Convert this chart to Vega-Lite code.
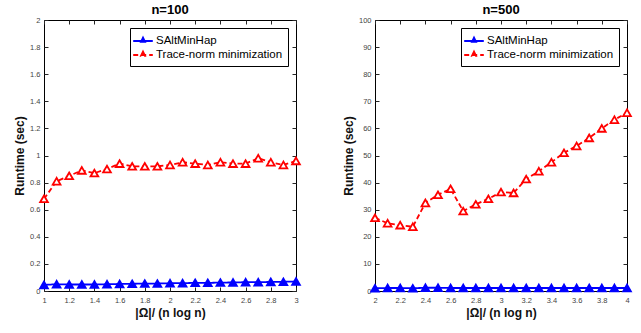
{
  "$schema": "https://vega.github.io/schema/vega-lite/v6.json",
  "autosize": {"type": "pad"},
  "padding": {"left": 13, "top": 3, "right": 15, "bottom": 10},
  "background": "white",
  "bounds": "flush",
  "spacing": 79,
  "config": {
    "font": "Liberation Sans",
    "view": {"stroke": "black", "strokeWidth": 1},
    "axis": {
      "domain": false,
      "grid": false,
      "tickSize": -4,
      "tickColor": "#262626",
      "labelFontSize": 7.5,
      "labelColor": "#444444",
      "labelFont": "Liberation Sans",
      "titleFont": "Liberation Sans",
      "titleFontSize": 12,
      "titleFontWeight": "bold",
      "titleColor": "#111111"
    },
    "legend": {
      "symbolType": "M-1.4,0H1.4M0,-0.45L0.27,0.1H-0.27Z",
      "symbolSize": 196,
      "symbolStrokeWidth": 2,
      "labelFontSize": 11.5,
      "labelFont": "Liberation Sans",
      "labelColor": "black",
      "labelOffset": 5,
      "strokeColor": "black",
      "fillColor": "white",
      "padding": 5,
      "rowPadding": 0,
      "orient": "top-right",
      "offset": 8
    },
    "title": {"fontSize": 13, "fontWeight": "bold", "font": "Liberation Sans", "offset": -1, "color": "black"}
  },
  "datasets": {
    "d100": [
      {"x": 1.0, "y": 0.045, "method": "SAltMinHap"},
      {"x": 1.1, "y": 0.05, "method": "SAltMinHap"},
      {"x": 1.2, "y": 0.048, "method": "SAltMinHap"},
      {"x": 1.3, "y": 0.048, "method": "SAltMinHap"},
      {"x": 1.4, "y": 0.048, "method": "SAltMinHap"},
      {"x": 1.5, "y": 0.05, "method": "SAltMinHap"},
      {"x": 1.6, "y": 0.052, "method": "SAltMinHap"},
      {"x": 1.7, "y": 0.053, "method": "SAltMinHap"},
      {"x": 1.8, "y": 0.055, "method": "SAltMinHap"},
      {"x": 1.9, "y": 0.055, "method": "SAltMinHap"},
      {"x": 2.0, "y": 0.057, "method": "SAltMinHap"},
      {"x": 2.1, "y": 0.058, "method": "SAltMinHap"},
      {"x": 2.2, "y": 0.06, "method": "SAltMinHap"},
      {"x": 2.3, "y": 0.06, "method": "SAltMinHap"},
      {"x": 2.4, "y": 0.062, "method": "SAltMinHap"},
      {"x": 2.5, "y": 0.063, "method": "SAltMinHap"},
      {"x": 2.6, "y": 0.065, "method": "SAltMinHap"},
      {"x": 2.7, "y": 0.065, "method": "SAltMinHap"},
      {"x": 2.8, "y": 0.067, "method": "SAltMinHap"},
      {"x": 2.9, "y": 0.068, "method": "SAltMinHap"},
      {"x": 3.0, "y": 0.07, "method": "SAltMinHap"},
      {"x": 1.0, "y": 0.68, "method": "Trace-norm minimization"},
      {"x": 1.1, "y": 0.81, "method": "Trace-norm minimization"},
      {"x": 1.2, "y": 0.85, "method": "Trace-norm minimization"},
      {"x": 1.3, "y": 0.89, "method": "Trace-norm minimization"},
      {"x": 1.4, "y": 0.87, "method": "Trace-norm minimization"},
      {"x": 1.5, "y": 0.90, "method": "Trace-norm minimization"},
      {"x": 1.6, "y": 0.94, "method": "Trace-norm minimization"},
      {"x": 1.7, "y": 0.92, "method": "Trace-norm minimization"},
      {"x": 1.8, "y": 0.92, "method": "Trace-norm minimization"},
      {"x": 1.9, "y": 0.92, "method": "Trace-norm minimization"},
      {"x": 2.0, "y": 0.93, "method": "Trace-norm minimization"},
      {"x": 2.1, "y": 0.95, "method": "Trace-norm minimization"},
      {"x": 2.2, "y": 0.94, "method": "Trace-norm minimization"},
      {"x": 2.3, "y": 0.93, "method": "Trace-norm minimization"},
      {"x": 2.4, "y": 0.95, "method": "Trace-norm minimization"},
      {"x": 2.5, "y": 0.94, "method": "Trace-norm minimization"},
      {"x": 2.6, "y": 0.94, "method": "Trace-norm minimization"},
      {"x": 2.7, "y": 0.98, "method": "Trace-norm minimization"},
      {"x": 2.8, "y": 0.95, "method": "Trace-norm minimization"},
      {"x": 2.9, "y": 0.93, "method": "Trace-norm minimization"},
      {"x": 3.0, "y": 0.96, "method": "Trace-norm minimization"}
    ],
    "d500": [
      {"x": 2.0, "y": 1.0, "method": "SAltMinHap"},
      {"x": 2.1, "y": 1.1, "method": "SAltMinHap"},
      {"x": 2.2, "y": 1.1, "method": "SAltMinHap"},
      {"x": 2.3, "y": 1.0, "method": "SAltMinHap"},
      {"x": 2.4, "y": 1.2, "method": "SAltMinHap"},
      {"x": 2.5, "y": 1.2, "method": "SAltMinHap"},
      {"x": 2.6, "y": 1.1, "method": "SAltMinHap"},
      {"x": 2.7, "y": 1.1, "method": "SAltMinHap"},
      {"x": 2.8, "y": 1.1, "method": "SAltMinHap"},
      {"x": 2.9, "y": 1.1, "method": "SAltMinHap"},
      {"x": 3.0, "y": 1.1, "method": "SAltMinHap"},
      {"x": 3.1, "y": 1.1, "method": "SAltMinHap"},
      {"x": 3.2, "y": 1.1, "method": "SAltMinHap"},
      {"x": 3.3, "y": 1.1, "method": "SAltMinHap"},
      {"x": 3.4, "y": 1.1, "method": "SAltMinHap"},
      {"x": 3.5, "y": 1.1, "method": "SAltMinHap"},
      {"x": 3.6, "y": 1.1, "method": "SAltMinHap"},
      {"x": 3.7, "y": 1.1, "method": "SAltMinHap"},
      {"x": 3.8, "y": 1.1, "method": "SAltMinHap"},
      {"x": 3.9, "y": 1.1, "method": "SAltMinHap"},
      {"x": 4.0, "y": 1.1, "method": "SAltMinHap"},
      {"x": 2.0, "y": 27.0, "method": "Trace-norm minimization"},
      {"x": 2.1, "y": 25.0, "method": "Trace-norm minimization"},
      {"x": 2.2, "y": 24.3, "method": "Trace-norm minimization"},
      {"x": 2.3, "y": 23.7, "method": "Trace-norm minimization"},
      {"x": 2.4, "y": 32.5, "method": "Trace-norm minimization"},
      {"x": 2.5, "y": 35.5, "method": "Trace-norm minimization"},
      {"x": 2.6, "y": 37.7, "method": "Trace-norm minimization"},
      {"x": 2.7, "y": 29.5, "method": "Trace-norm minimization"},
      {"x": 2.8, "y": 32.0, "method": "Trace-norm minimization"},
      {"x": 2.9, "y": 34.0, "method": "Trace-norm minimization"},
      {"x": 3.0, "y": 36.5, "method": "Trace-norm minimization"},
      {"x": 3.1, "y": 36.2, "method": "Trace-norm minimization"},
      {"x": 3.2, "y": 41.3, "method": "Trace-norm minimization"},
      {"x": 3.3, "y": 44.2, "method": "Trace-norm minimization"},
      {"x": 3.4, "y": 47.5, "method": "Trace-norm minimization"},
      {"x": 3.5, "y": 51.0, "method": "Trace-norm minimization"},
      {"x": 3.6, "y": 53.5, "method": "Trace-norm minimization"},
      {"x": 3.7, "y": 56.5, "method": "Trace-norm minimization"},
      {"x": 3.8, "y": 60.0, "method": "Trace-norm minimization"},
      {"x": 3.9, "y": 63.2, "method": "Trace-norm minimization"},
      {"x": 4.0, "y": 65.8, "method": "Trace-norm minimization"}
    ]
  },
  "resolve": {
    "scale": {"color": "independent", "strokeDash": "independent", "fill": "independent", "x": "independent", "y": "independent"},
    "legend": {"color": "independent", "strokeDash": "independent", "fill": "independent"}
  },
  "hconcat": [
    {
      "title": "n=100",
      "width": 252,
      "height": 271,
      "data": {"name": "d100"},
      "resolve": {"axis": {"x": "independent", "y": "independent"}},
      "layer": [
        {
          "mark": {"type": "line", "strokeWidth": 1.8},
          "encoding": {
            "x": {"field": "x", "type": "quantitative", "scale": {"domain": [1, 3], "nice": false, "zero": false},
                  "axis": {"orient": "bottom", "title": "|Ω|/ (n log n)", "values": [1, 1.2, 1.4, 1.6, 1.8, 2, 2.2, 2.4, 2.6, 2.8, 3], "format": "~r", "labelPadding": 9, "titlePadding": 4, "labelFlush": false}},
            "y": {"field": "y", "type": "quantitative", "scale": {"domain": [0, 2], "nice": false},
                  "axis": {"orient": "left", "title": "Runtime (sec)", "values": [0, 0.2, 0.4, 0.6, 0.8, 1, 1.2, 1.4, 1.6, 1.8, 2], "format": "~r", "labelPadding": 8, "titlePadding": 3}},
            "color": {"field": "method", "type": "nominal", "scale": {"domain": ["SAltMinHap", "Trace-norm minimization"], "range": ["#0000ff", "#ff0000"]}, "legend": {"title": null}},
            "strokeDash": {"field": "method", "type": "nominal", "scale": {"domain": ["SAltMinHap", "Trace-norm minimization"], "range": [[1, 0], [5, 3]]}, "legend": {"title": null}}
          }
        },
        {
          "mark": {"type": "point", "shape": "triangle-up", "filled": false, "size": 60, "strokeWidth": 1.8, "opacity": 1},
          "encoding": {
            "x": {"field": "x", "type": "quantitative", "axis": {"orient": "top", "labels": false, "title": null, "values": [1, 1.2, 1.4, 1.6, 1.8, 2, 2.2, 2.4, 2.6, 2.8, 3]}},
            "y": {"field": "y", "type": "quantitative", "axis": {"orient": "right", "labels": false, "title": null, "values": [0, 0.2, 0.4, 0.6, 0.8, 1, 1.2, 1.4, 1.6, 1.8, 2]}},
            "color": {"field": "method", "type": "nominal"},
            "fill": {"field": "method", "type": "nominal", "scale": {"domain": ["SAltMinHap", "Trace-norm minimization"], "range": ["#0000ff", "#ffffff"]}, "legend": {"title": null}}
          }
        }
      ]
    },
    {
      "title": "n=500",
      "width": 252,
      "height": 271,
      "data": {"name": "d500"},
      "resolve": {"axis": {"x": "independent", "y": "independent"}},
      "layer": [
        {
          "mark": {"type": "line", "strokeWidth": 1.8},
          "encoding": {
            "x": {"field": "x", "type": "quantitative", "scale": {"domain": [2, 4], "nice": false, "zero": false},
                  "axis": {"orient": "bottom", "title": "|Ω|/ (n log n)", "values": [2, 2.2, 2.4, 2.6, 2.8, 3, 3.2, 3.4, 3.6, 3.8, 4], "format": "~r", "labelPadding": 9, "titlePadding": 4, "labelFlush": false}},
            "y": {"field": "y", "type": "quantitative", "scale": {"domain": [0, 100], "nice": false},
                  "axis": {"orient": "left", "title": "Runtime (sec)", "values": [0, 10, 20, 30, 40, 50, 60, 70, 80, 90, 100], "format": "~r", "labelPadding": 8, "titlePadding": 3}},
            "color": {"field": "method", "type": "nominal", "scale": {"domain": ["SAltMinHap", "Trace-norm minimization"], "range": ["#0000ff", "#ff0000"]}, "legend": {"title": null}},
            "strokeDash": {"field": "method", "type": "nominal", "scale": {"domain": ["SAltMinHap", "Trace-norm minimization"], "range": [[1, 0], [5, 3]]}, "legend": {"title": null}}
          }
        },
        {
          "mark": {"type": "point", "shape": "triangle-up", "filled": false, "size": 60, "strokeWidth": 1.8, "opacity": 1},
          "encoding": {
            "x": {"field": "x", "type": "quantitative", "axis": {"orient": "top", "labels": false, "title": null, "values": [2, 2.2, 2.4, 2.6, 2.8, 3, 3.2, 3.4, 3.6, 3.8, 4]}},
            "y": {"field": "y", "type": "quantitative", "axis": {"orient": "right", "labels": false, "title": null, "values": [0, 10, 20, 30, 40, 50, 60, 70, 80, 90, 100]}},
            "color": {"field": "method", "type": "nominal"},
            "fill": {"field": "method", "type": "nominal", "scale": {"domain": ["SAltMinHap", "Trace-norm minimization"], "range": ["#0000ff", "#ffffff"]}, "legend": {"title": null}}
          }
        }
      ]
    }
  ]
}
